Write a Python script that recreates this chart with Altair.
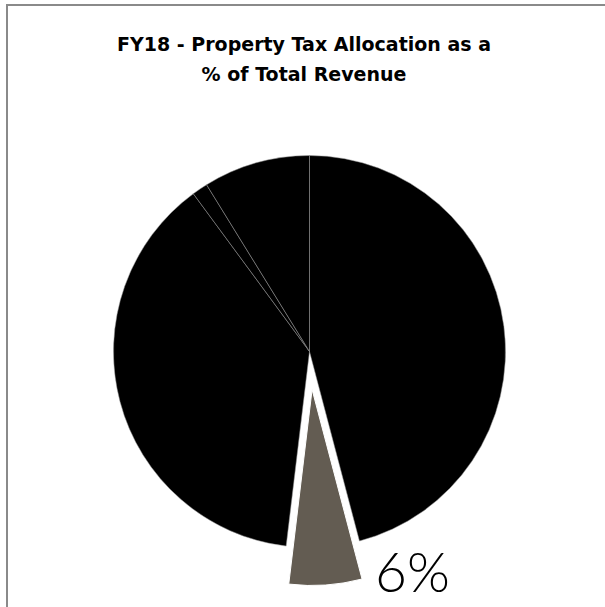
import altair as alt
import pandas as pd

# Data (share of total revenue, %)
categories = ["Revenue A", "Property Tax Allocation", "Revenue B", "Revenue C", "Revenue D"]
shares = [45.9, 6.0, 38.0, 1.3, 8.8]
slice_order = [1, 2, 3, 4, 5]
slice_colors = ["#000000", "#635c52", "#000000", "#000000", "#000000"]
highlight = "Property Tax Allocation"
highlight_label = "6%"
title_lines = ["FY18 - Property Tax Allocation as a", "% of Total Revenue"]

df = pd.DataFrame({"category": categories, "share": shares, "ord": slice_order})

W, H = 605, 607
CX, CY = 309.5, 351.5
R = 196
EX_DX, EX_DY = 2.6, 38

theta = alt.Theta("share:Q", stack=True)
color = alt.Color("category:N", scale=alt.Scale(domain=categories, range=slice_colors), legend=None)
order = alt.Order("ord:Q")

base = alt.Chart(df)

pie = base.mark_arc(radius=R, stroke="#9a9a9a", strokeWidth=0.5).encode(
    theta=theta,
    color=color,
    order=order,
    x=alt.value(CX),
    y=alt.value(CY),
    opacity=alt.condition(alt.datum.category == highlight, alt.value(0), alt.value(1)),
)

exploded = base.mark_arc(radius=R, stroke="#ffffff", strokeWidth=1).encode(
    theta=theta,
    color=color,
    order=order,
    x=alt.value(CX + EX_DX),
    y=alt.value(CY + EX_DY),
    opacity=alt.condition(alt.datum.category == highlight, alt.value(1), alt.value(0)),
)

label_df = pd.DataFrame({"t": [highlight_label]})
label = alt.Chart(label_df).mark_text(
    font="Lato", fontWeight=300, fontSize=55, align="left", baseline="alphabetic", color="#000000"
).encode(text="t:N", x=alt.value(375), y=alt.value(592))

title_df = pd.DataFrame({"t": title_lines, "yy": [51, 81]})
title = alt.Chart(title_df).mark_text(
    font="DejaVu Sans", fontWeight="bold", fontSize=19, align="center", baseline="alphabetic", color="#000000"
).encode(text="t:N", x=alt.value(304), y=alt.Y("yy:Q", scale=None))

frame = alt.Chart(pd.DataFrame({"a": [0]})).mark_rect(
    fill="transparent", stroke="#8a8a8a", strokeWidth=2
).encode(x=alt.value(7), x2=alt.value(W + 20), y=alt.value(5), y2=alt.value(H + 20))

chart = alt.layer(frame, pie, exploded, label, title).properties(
    width=W, height=H, padding=0, autosize=alt.AutoSizeParams(type="none")
).configure_view(stroke=None)

chart.save("out.html", embed_options={"renderer": "svg", "actions": False})
